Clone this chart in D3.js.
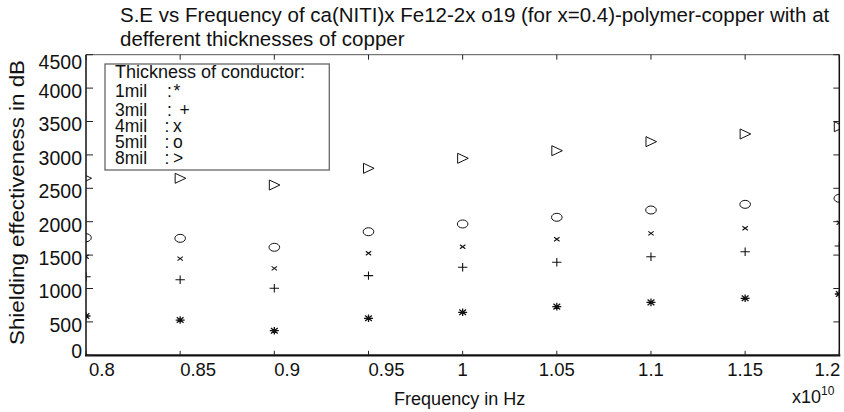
<!DOCTYPE html>
<html>
<head>
<meta charset="utf-8">
<script src="https://cdn.jsdelivr.net/npm/d3@7"></script>
<style>
  html, body { margin: 0; padding: 0; background: #fff; }
  svg { display: block; }
  text { font-family: "Liberation Sans", Arial, Helvetica, sans-serif; fill: #111; }
</style>
</head>
<body>
<svg id="chart" width="844" height="412"></svg>
<script>
// ---- data (frequency in units of 1e10 Hz, SE in dB) ----
const freq = [0.8, 0.85, 0.9, 0.95, 1.0, 1.05, 1.1, 1.15, 1.2];
const se1mil = [588, 528, 368, 554, 644, 728, 793, 853, 918];
const se3mil = [1177, 1132, 1003, 1192, 1317, 1392, 1476, 1551, 1636];
const se4mil = [1476, 1447, 1302, 1527, 1626, 1737, 1826, 1901, 1985];
const se5mil = [1760, 1751, 1617, 1850, 1966, 2066, 2175, 2260, 2350];
const se8mil = [2650, 2650, 2549, 2799, 2949, 3063, 3198, 3313, 3422];
const xTicks = [0.8, 0.85, 0.9, 0.95, 1, 1.05, 1.1, 1.15, 1.2];
const yTicks = [0, 500, 1000, 1500, 2000, 2500, 3000, 3500, 4000, 4500];
const seriesNames = ["1mil", "3mil", "4mil", "5mil", "8mil"];
const seriesSymbols = ["*", "+", "x", "o", ">"];
const titleLines = ["S.E vs Frequency of ca(NITI)x Fe12-2x o19 (for x=0.4)-polymer-copper with at",
                    "defferent thicknesses of copper"];

const series = [
  {name: "1mil", values: se1mil, marker: "star"},
  {name: "3mil", values: se3mil, marker: "plus"},
  {name: "4mil", values: se4mil, marker: "cross"},
  {name: "5mil", values: se5mil, marker: "circle"},
  {name: "8mil", values: se8mil, marker: "tri"}
];

const svg = d3.select("#chart");
const L = 86, R = 839.3, T = 54.7, B = 355.3;
const x = d3.scaleLinear().domain([0.8, 1.2]).range([L, R]);
const y = d3.scaleLinear().domain([0, 4500]).range([B, T]);

svg.append("defs").append("clipPath").attr("id", "plotclip")
  .append("rect").attr("x", L).attr("y", T).attr("width", R - L).attr("height", B - T);

// ---- title ----
svg.append("text").attr("x", 120).attr("y", 22).attr("font-size", 20.5).text(titleLines[0]);
svg.append("text").attr("x", 120).attr("y", 46).attr("font-size", 20.5).text(titleLines[1]);

// ---- axes frame ----
const frame = svg.append("g");
frame.append("line").attr("x1", L).attr("x2", R).attr("y1", T).attr("y2", T).attr("stroke", "#555").attr("stroke-width", 1);
frame.append("line").attr("x1", R).attr("x2", R).attr("y1", T).attr("y2", B).attr("stroke", "#111").attr("stroke-width", 1.5);
frame.append("line").attr("x1", L).attr("x2", L).attr("y1", T).attr("y2", B).attr("stroke", "#111").attr("stroke-width", 1.5);
frame.append("line").attr("x1", L - 1).attr("x2", R + 1).attr("y1", B).attr("y2", B).attr("stroke", "#111").attr("stroke-width", 2.2);

// ticks (inward), on all four sides
const tk = svg.append("g").attr("stroke", "#222").attr("stroke-width", 1);
xTicks.forEach(v => {
  tk.append("line").attr("x1", x(v)).attr("x2", x(v)).attr("y1", B).attr("y2", B - 4.5);
  tk.append("line").attr("x1", x(v)).attr("x2", x(v)).attr("y1", T).attr("y2", T + 5);
});
yTicks.forEach(v => {
  tk.append("line").attr("x1", L).attr("x2", L + 7).attr("y1", y(v)).attr("y2", y(v));
  tk.append("line").attr("x1", R).attr("x2", R - 6).attr("y1", y(v)).attr("y2", y(v));
});

// tick labels
const xl = svg.append("g").attr("font-size", 18.5);
xTicks.forEach(v => {
  let anchor = "middle", px = x(v);
  if (v < 1) { anchor = "start"; px = x(v) + (v === 0.8 ? 3 : 0); }
  if (v === 1.2) { anchor = "end"; px = x(v) + 1; }
  xl.append("text").attr("x", px).attr("y", 376).attr("text-anchor", anchor)
    .text(d3.format("")(v));
});
const yl = svg.append("g").attr("font-size", 19.5);
yTicks.forEach(v => {
  const cy = Math.max(61.7, Math.min(351, y(v) + 3));
  yl.append("text").attr("x", 82).attr("y", cy).attr("dy", "0.35em").attr("text-anchor", "end").text(v);
});

// axis labels
svg.append("text").attr("x", (L + R) / 2 - 3).attr("y", 405).attr("text-anchor", "middle")
  .attr("font-size", 18).text("Frequency in Hz");
svg.append("text").attr("transform", "translate(23.5,202.5) rotate(-90)").attr("text-anchor", "middle")
  .attr("font-size", 19.5).attr("textLength", 285).attr("lengthAdjust", "spacingAndGlyphs")
  .text("Shielding effectiveness in dB");
const ex = svg.append("text").attr("x", 792).attr("y", 403).attr("font-size", 18);
ex.append("tspan").text("x10");
ex.append("tspan").attr("dy", -8).attr("font-size", 12).text("10");

// ---- markers ----
const markerPath = {
  star: "M-4.5,0H4.5M0,-3.8V3.8M-3.4,-2.8L3.4,2.8M-3.4,2.8L3.4,-2.8",
  plus: "M-4.7,0H4.7M0,-4.2V4.2",
  cross: "M-2.7,-2L2.7,2M-2.7,2L2.7,-2",
  tri: "M-5,-5L5.6,0L-5,5Z"
};
const plot = svg.append("g").attr("clip-path", "url(#plotclip)");
series.forEach(s => {
  const g = plot.append("g");
  s.values.forEach((v, i) => {
    const px = x(freq[i]), py = y(v);
    if (s.marker === "circle") {
      g.append("ellipse").attr("cx", px).attr("cy", py).attr("rx", 5.3).attr("ry", 4)
        .attr("fill", "none").attr("stroke", "#111").attr("stroke-width", 1);
    } else {
      g.append("path").attr("transform", `translate(${px},${py})`).attr("d", markerPath[s.marker])
        .attr("fill", "none").attr("stroke", "#111")
        .attr("stroke-width", s.marker === "star" ? 1.3 : (s.marker === "tri" ? 1 : 1.1));
    }
  });
});

// ---- legend box (text annotation) ----
const lg = svg.append("g");
lg.append("rect").attr("x", 105).attr("y", 64).attr("width", 224.3).attr("height", 106)
  .attr("fill", "#fff").attr("stroke", "#666").attr("stroke-width", 1.3);
lg.append("text").attr("x", 115).attr("y", 78.3).attr("font-size", 18).text("Thickness of conductor:");
const rowY = [97.3, 116, 131.7, 148.3, 164];
const colonX = [167, 167, 164.5, 164.5, 164.5];
const symX = [173.5, 179.5, 173, 173, 173];
seriesNames.forEach((n, i) => {
  lg.append("text").attr("x", 115).attr("y", rowY[i]).attr("font-size", 17.5).text(n);
  lg.append("text").attr("x", colonX[i]).attr("y", rowY[i]).attr("font-size", 17.5).text(":");
  lg.append("text").attr("x", symX[i]).attr("y", rowY[i]).attr("font-size", 17.5).text(seriesSymbols[i]);
});
</script>
</body>
</html>
